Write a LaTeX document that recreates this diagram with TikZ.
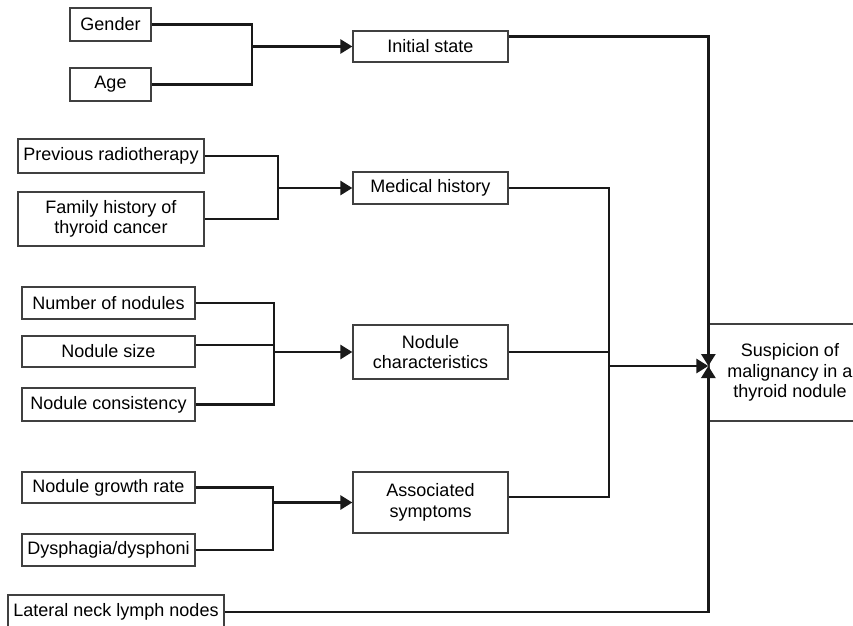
\documentclass[tikz,border=0pt]{standalone}
\usepackage{fontspec}
\setmainfont{Liberation Sans}
\usetikzlibrary{arrows.meta}

\tikzset{
	box/.style={draw=black!75, line width=1.3pt, inner sep=0pt, align=center,
		font=\fontsize{18}{20.5}\selectfont},
	link/.style={line width=2.7pt, color=black!90},
	into/.style={link, -{Triangle[length=12pt,width=14pt]}}
}

\begin{document}
\begin{tikzpicture}[x=1pt,y=-1pt]
	\clip (0,0) rectangle (853,625);
	
	\node[box, minimum width=81pt, minimum height=33pt] (gender) at (110.5,24.5) {Gender};
	\node[box, line width=2.2pt, minimum width=81pt, minimum height=33pt] (age) at (110.5,84.5) {Age};
	\node[box, minimum width=186pt, minimum height=34pt] (radio) at (111,156) {Previous radiotherapy};
	\node[box, minimum width=186pt, minimum height=54pt] (family) at (111,219) {Family history of\\thyroid cancer};
	\node[box, minimum width=173pt, minimum height=32pt] (number) at (108.5,303) {Number of nodules};
	\node[box, minimum width=173pt, minimum height=31pt] (size) at (108.5,351.5) {Nodule size};
	\node[box, minimum width=173pt, minimum height=33pt] (consist) at (108.5,404.5) {Nodule consistency};
	\node[box, minimum width=173pt, minimum height=31pt] (growth) at (108.5,487.5) {Nodule growth rate};
	\node[box, minimum width=173pt, minimum height=32pt] (dysph) at (108.5,550) {Dysphagia/dysphoni};
	\node[box, minimum width=216pt, minimum height=34pt] (lateral) at (116,612) {Lateral neck lymph nodes};
	
	\node[box, minimum width=155pt, minimum height=31pt] (init) at (430.5,46.5) {Initial state};
	\node[box, minimum width=155pt, minimum height=32pt] (medhist) at (430.5,188) {Medical history};
	\node[box, minimum width=155pt, minimum height=54pt] (charac) at (430.5,352) {Nodule\\characteristics};
	\node[box, minimum width=155pt, minimum height=61pt] (assoc) at (430.5,502.5) {Associated\\symptoms};
	
	\node[box, minimum width=162pt, minimum height=97pt] (susp) at (790,372.5) {Suspicion of\\malignancy in a\\thyroid nodule};
	
	% junctions
	\coordinate (j1) at (252,54);
	\coordinate (j2) at (278,188);
	\coordinate (j3) at (274,352);
	\coordinate (j4) at (273,502.5);
	\coordinate (j5) at (609,366);
	\coordinate (m) at ([yshift=6.5pt]susp.west);
	
	\draw[link] (gender.east) -| (j1) (age.east) -| (j1);
	\draw[into] (j1 |- init.west) -- (init.west);
	
	\draw[link] (radio.east) -| (j2) (family.east) -| (j2);
	\draw[into] (j2) -- (medhist.west);
	
	\draw[link] (number.east) -| (j3) (consist.east) -| (j3)
		([yshift=6.5pt]size.east) -- ([yshift=6.5pt]size.east -| j3);
	\draw[into] (j3) -- (charac.west);
	
	\draw[link] (growth.east) -| (j4) (dysph.east) -| (j4);
	\draw[into] (j4) -- (assoc.west);
	
	\draw[link] (medhist.east) -| (j5) ([yshift=5.5pt]assoc.east) -| (j5)
		(charac.east) -- (charac.east -| j5);
	\draw[into] (j5) -- (m);
	\draw[into] ([yshift=10pt]init.east) -| (m);
	\draw[into] (lateral.east) -| (m);
\end{tikzpicture}
\end{document}
